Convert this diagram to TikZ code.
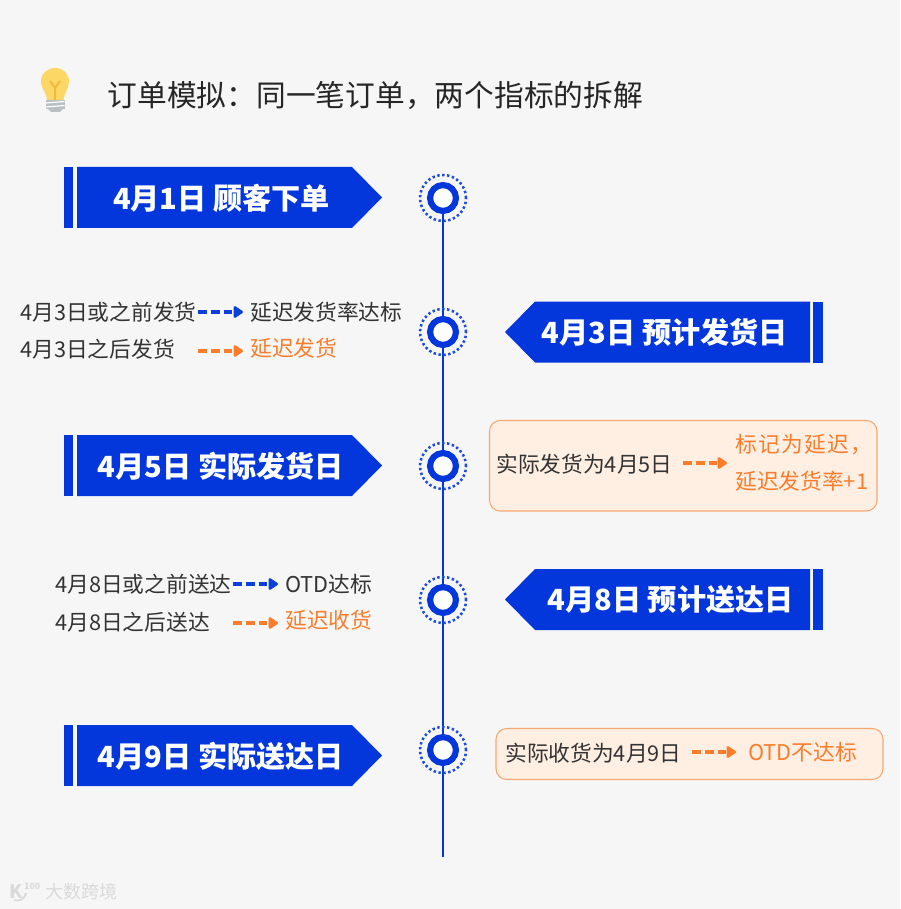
\documentclass[tikz,border=0pt]{standalone}
\usepackage{fontspec}
\setmainfont{Noto Sans CJK SC}
\usetikzlibrary{arrows.meta}
\definecolor{bg}{HTML}{F6F6F7}
\definecolor{bandblue}{HTML}{0437DB}
\definecolor{darrowblue}{HTML}{0A3FDC}
\definecolor{orangeT}{HTML}{FB7D2B}
\definecolor{boxfill}{HTML}{FFEEE2}
\definecolor{boxline}{HTML}{F6A873}
\definecolor{inktext}{HTML}{333333}
\definecolor{bulb}{HTML}{FDD765}
\definecolor{bulbdark}{HTML}{F2B93F}
\definecolor{bulbgrey}{HTML}{B9C0C4}
\definecolor{wmgrey}{HTML}{DADADA}
\tikzset{
  bandlabel/.style={text=white,font=\bfseries\fontsize{21.85pt}{24pt}\selectfont,inner sep=0pt},
  bandfill/.style={fill=bandblue,draw=none},
  small/.style={anchor=west,inner sep=0pt,text=inktext,font=\fontsize{16.3pt}{20pt}\selectfont},
  smallor/.style={small,text=orangeT},
  dashbase/.style={line width=2.5pt,dash pattern=on 6.6pt off 3pt,-{Triangle[length=8pt,width=10pt,round]}},
  darrow/.style={dashbase,draw=darrowblue},
  oarrow/.style={dashbase,draw=orangeT},
  ringnode/.style={circle,draw=bandblue,line width=4.6pt,fill=white,minimum size=19.4pt,inner sep=0pt},
  dotring/.style={circle,draw=bandblue!90,line width=1.9pt,dash pattern=on 1.8pt off 1.9pt,minimum size=34.5pt,inner sep=0pt},
  softbox/.style={draw=boxline,fill=boxfill,line width=.8pt,rounded corners=8pt},
  spine/.style={draw=bandblue,line width=1.5pt},
  wmark/.style={anchor=west,inner sep=0pt,text=wmgrey}
}
\begin{document}
\begin{tikzpicture}[x=0.75pt,y=-0.75pt]
\useasboundingbox (0,0) rectangle (900,909);
\fill[bg] (0,0) rectangle (900,909);
% bulb icon
\fill[bulb] (47,100) .. controls (47,93) and (41,89) .. (41,81.5) .. controls (41,73.5) and (47,68) .. (55,68) .. controls (63,68) and (69,73.5) .. (69,81.5) .. controls (69,89) and (64,93) .. (63.5,100) -- cycle;
\draw[bulbdark,line width=1.5pt] (55,100) -- (55,88) -- (50,81) (55,88) -- (60,81);
\fill[bulbgrey] (46,100) rectangle (64.5,109);
\fill[bulbgrey] (48,109) -- (63,109) -- (60,112) -- (51,112) -- cycle;
\draw[white,line width=.9pt] (46,103) -- (64.5,101.5) (46,107) -- (64.5,105.5);
\node[anchor=west,inner sep=0pt,text=black!85,font=\fontsize{22.3pt}{26pt}\selectfont] (title) at (107.5,96) {订单模拟：同一笔订单，两个指标的拆解};
% spine
\node[ringnode] (n1) at (443,198) {};
\node[ringnode] (n2) at (443,332) {};
\node[ringnode] (n3) at (443,466) {};
\node[ringnode] (n4) at (443,600) {};
\node[ringnode] (n5) at (443,750) {};
\coordinate (spineend) at (443,857);
\draw[spine] (n1) -- (n2);
\draw[spine] (n2) -- (n3);
\draw[spine] (n3) -- (n4);
\draw[spine] (n4) -- (n5);
\draw[spine] (n5) -- (spineend);
\foreach \n/\y in {a/198,b/332,c/466,d/600,e/750}
  \node[dotring] (ring\n) at (443,\y) {};
% bands
\foreach \t in {167,435,725}{
  \fill[bandfill] (64,\t) rectangle (73,\t+61);
  \fill[bandfill] (77,\t) -- (352,\t) -- (382,\t+30.5) -- (352,\t+61) -- (77,\t+61) -- cycle;
}
\foreach \t in {301.5,569}{
  \fill[bandfill] (813,\t) rectangle (823,\t+61);
  \fill[bandfill] (810,\t) -- (535,\t) -- (505,\t+30.5) -- (535,\t+61) -- (810,\t+61) -- cycle;
}
\node[bandlabel] (b1) at (221.5,198) {4月1日 顾客下单};
\node[bandlabel] (b2) at (665,332) {4月3日 预计发货日};
\node[bandlabel] (b3) at (221,466) {4月5日 实际发货日};
\node[bandlabel] (b4) at (670.5,600) {4月8日 预计送达日};
\node[bandlabel] (b5) at (221,756) {4月9日 实际送达日};
% left notes 1
\node[small] (l1) at (20,312.5) {4月3日或之前发货};
\node[small] (r1) at (250,312.5) {延迟发货率达标};
\coordinate (l1a) at (198,312); \coordinate (r1a) at (243,312);
\draw[darrow] (l1a) -- (r1a);
\node[small] (l2) at (20,349) {4月3日之后发货};
\node[smallor] (r2) at (250,348) {延迟发货};
\coordinate (l2a) at (198,351); \coordinate (r2a) at (243,351);
\draw[oarrow] (l2a) -- (r2a);
% left notes 2
\node[small] (l3) at (55,584.5) {4月8日或之前送达};
\node[small] (r3) at (285,584.5) {OTD达标};
\coordinate (l3a) at (233,584); \coordinate (r3a) at (278,584);
\draw[darrow] (l3a) -- (r3a);
\node[small] (l4) at (55,622.5) {4月8日之后送达};
\node[smallor] (r4) at (285,620.5) {延迟收货};
\coordinate (l4a) at (233,623); \coordinate (r4a) at (278,623);
\draw[oarrow] (l4a) -- (r4a);
% box 1
\draw[softbox] (489.5,420.5) rectangle (877,511);
\node[small] (t1) at (496,464.5) {实际发货为4月5日};
\node[smallor,font=\fontsize{16.3pt}{20pt}\selectfont\addfontfeature{LetterSpace=6}] (o1) at (735,445) {标记为延迟，};
\node[smallor] (o2) at (735,481) {延迟发货率+1};
\coordinate (t1a) at (683,463); \coordinate (o1a) at (727,463);
\draw[oarrow] (t1a) -- (o1a);
% box 2
\draw[softbox] (496,728.5) rectangle (883,779.5);
\node[small] (t2) at (505,753.5) {实际收货为4月9日};
\node[smallor] (o3) at (748,752.5) {OTD不达标};
\coordinate (t2a) at (692,752); \coordinate (o3a) at (736,752);
\draw[oarrow] (t2a) -- (o3a);
% watermark
\node[wmark,font=\fontsize{13.5pt}{15pt}\selectfont] (wm) at (45,892) {大数跨境};
\node[wmark,font=\bfseries\fontsize{14pt}{15pt}\selectfont] (wk) at (9,892) {K};
\node[wmark,font=\bfseries\fontsize{6.5pt}{7pt}\selectfont] (w100) at (24,886) {100};
\draw[wmgrey,line width=1.4pt] (26,893) .. controls (25,899) and (19,902) .. (14,900);
\end{tikzpicture}
\end{document}
